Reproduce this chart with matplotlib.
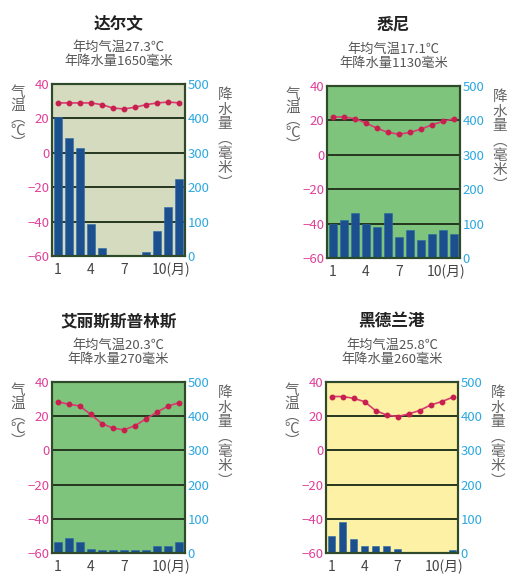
import matplotlib
matplotlib.use('Agg')
import matplotlib.pyplot as plt
import matplotlib.transforms as mtransforms

plt.rcParams['font.family'] = ['Noto Sans CJK SC', 'DejaVu Sans']

months = list(range(1, 13))
month_ticks = [1, 4, 7, 10]
month_labels = ['1', '4', '7', '10(月)']

# 达尔文
darwin_temp = [29, 29, 29, 29, 28, 26, 25.5, 26.5, 28, 29, 29.5, 29]
darwin_rain = [404, 344, 314, 93, 24, 0, 0, 0, 12, 74, 143, 223]
# 悉尼
sydney_temp = [22, 22, 21, 18.5, 15.5, 13, 12, 13, 15, 17.5, 19.5, 21]
sydney_rain = [100, 110, 131, 100, 91, 131, 60, 81, 51, 70, 81, 70]
# 艾丽斯斯普林斯
alice_temp = [28.5, 27, 26, 21, 15.7, 13, 12, 14.5, 18.5, 22.5, 26, 28]
alice_rain = [33, 43, 33, 12, 10, 10, 10, 10, 8, 21, 21, 33]
# 黑德兰港
hedland_temp = [31.5, 31.5, 30.5, 28.5, 23.3, 20.7, 19.8, 21.3, 23.3, 26.5, 28.5, 31]
hedland_rain = [51, 92, 42, 20, 20, 20, 11, 0, 0, 0, 0, 8]

panels = [
    ('达尔文', '年均气温27.3℃', '年降水量1650毫米', darwin_temp, darwin_rain, '#d5dbbf'),
    ('悉尼', '年均气温17.1℃', '年降水量1130毫米', sydney_temp, sydney_rain, '#7fc47c'),
    ('艾丽斯斯普林斯', '年均气温20.3℃', '年降水量270毫米', alice_temp, alice_rain, '#7fc47c'),
    ('黑德兰港', '年均气温25.8℃', '年降水量260毫米', hedland_temp, hedland_rain, '#fcf1a5'),
]

W, H = 513, 577
# axes boxes in pixels: left, top, right, bottom
boxes = [(52, 84, 185, 256), (327, 86, 460, 258), (52, 382, 185, 553), (326, 382, 458, 553)]

fig = plt.figure(figsize=(W / 100, H / 100), dpi=100)
fig.patch.set_facecolor('white')

frame_col = '#2e4a2a'
grid_col = '#26361f'
temp_col = '#d93a72'
dot_col = '#c8204e'
left_col = '#e0409a'
right_col = '#2ea8e0'
bar_col = '#1b4f8e'
text_col = '#444444'

for (title, sub1, sub2, temp, rain, bg), (l, t, r, b) in zip(panels, boxes):
    ax = fig.add_axes([l / W, 1 - b / H, (r - l) / W, (b - t) / H])
    ax.set_facecolor(bg)
    ax.set_xlim(0.5, 12.5)
    ax.set_ylim(-60, 40)
    for g in [20, 0, -20, -40]:
        ax.axhline(g, color=grid_col, lw=1.4, zorder=1)
    ax.plot(months, temp, color=temp_col, lw=1.2, marker='o', ms=3.2,
            mfc=dot_col, mec=dot_col, zorder=3)
    ax.set_yticks([40, 20, 0, -20, -40, -60])
    ax.set_yticklabels(['40', '20', '0', '−20', '−40', '−60'])
    ax.tick_params(axis='y', colors=left_col, labelsize=9.5, length=0, pad=2)
    ax.set_xticks(month_ticks)
    ax.set_xticklabels(month_labels)
    ax.tick_params(axis='x', colors=text_col, labelsize=10, length=0, pad=5)
    last = ax.get_xticklabels()[-1]
    last.set_horizontalalignment('left')
    last.set_transform(last.get_transform() + mtransforms.ScaledTranslation(-6 / 100, 0, fig.dpi_scale_trans))

    ax2 = ax.twinx()
    ax2.set_ylim(0, 500)
    ax2.bar(months, rain, width=0.72, color=bar_col, edgecolor='#2a6aa8', lw=0.4, zorder=2)
    ax2.set_yticks([0, 100, 200, 300, 400, 500])
    ax2.tick_params(axis='y', colors=right_col, labelsize=9.5, length=0, pad=2)
    for a in (ax, ax2):
        for s in a.spines.values():
            s.set_color(frame_col)
            s.set_linewidth(1.5)

    cx = (l + r) / 2 / W
    fig.text(cx, 1 - (t - 61) / H, title, ha='center', va='center',
             fontsize=12, fontweight='bold', color='#222222')
    fig.text(cx, 1 - (t - 37) / H, sub1, ha='center', va='center', fontsize=9.5, color='#555555')
    fig.text(cx, 1 - (t - 23) / H, sub2, ha='center', va='center', fontsize=9.5, color='#555555')

    fig.text((l - 34) / W, 1 - (t + 34) / H, '气\n温\n︵\n℃\n︶', ha='center', va='center',
             fontsize=10.5, color='#666666', linespacing=0.85)
    fig.text((r + 40) / W, 1 - (t + 55) / H, '降\n水\n量\n︵\n毫\n米\n︶', ha='center', va='center',
             fontsize=10.5, color='#666666', linespacing=1.05)

fig.savefig('out.png', dpi=100)
